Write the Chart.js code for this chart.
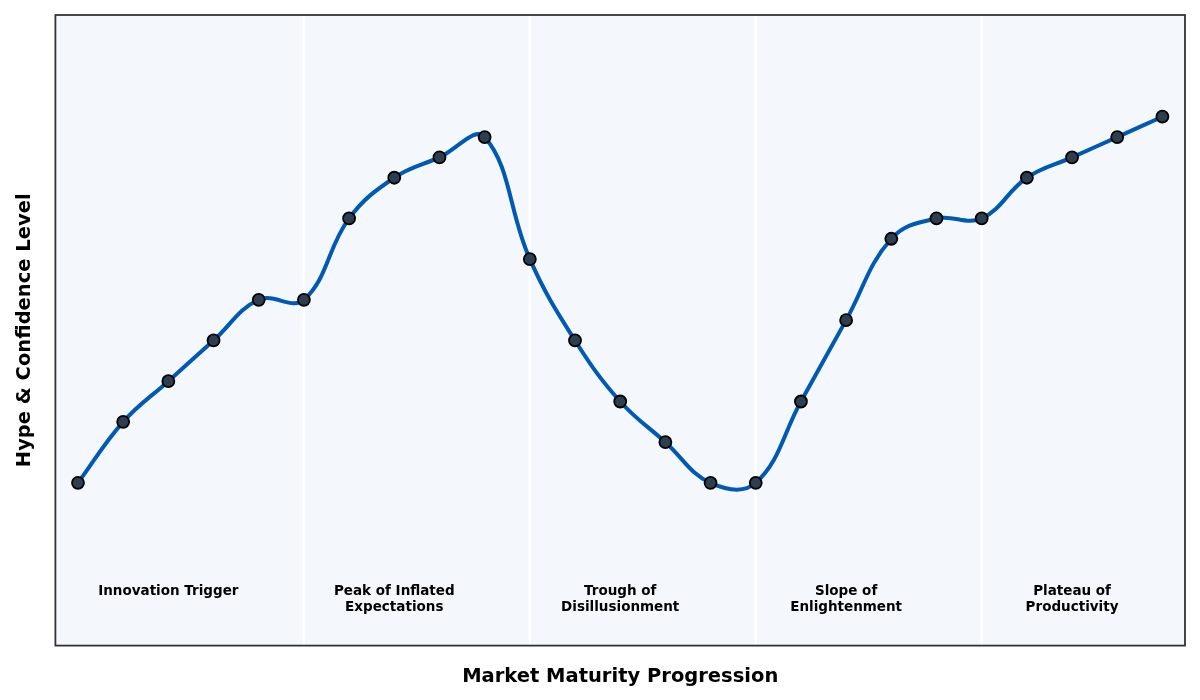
<!DOCTYPE html>
<html>
<head>
<meta charset="utf-8">
<script src="https://cdn.jsdelivr.net/npm/chart.js"></script>
<style>
  html, body { margin: 0; padding: 0; background: #fff; }
  #wrap { width: 1200px; height: 700px; }
</style>
</head>
<body>
<div id="wrap"><canvas id="hype"></canvas></div>
<script>
// hype cycle values, one per step
const steps = [0, 1, 2, 3, 4, 5, 6, 7, 8, 9, 10, 11, 12, 13, 14, 15, 16, 17, 18, 19, 20, 21, 22, 23, 24];
const hype = [20, 35, 45, 55, 65, 65, 85, 95, 100, 105, 75, 55, 40, 30, 20, 20, 40, 60, 80, 85, 85, 95, 100, 105, 110];

// phases: label lines, centre step, and the step boundaries between them
const phaseNames = [
    ['Innovation Trigger'],
    ['Peak of Inflated', 'Expectations'],
    ['Trough of', 'Disillusionment'],
    ['Slope of', 'Enlightenment'],
    ['Plateau of', 'Productivity']
];
const phaseCentres = [2, 7, 12, 17, 22];
const phaseBounds = [5, 10, 15, 20];
const labelLevel = -6.8;

const FONT = "'DejaVu Sans', sans-serif";

const backdrop = {
    id: 'backdrop',
    beforeDraw(chart) {
        const { ctx, chartArea: a, scales } = chart;
        ctx.save();
        ctx.fillStyle = '#f4f7fb';
        ctx.fillRect(a.left, a.top, a.right - a.left, a.bottom - a.top);
        ctx.strokeStyle = '#ffffff';
        ctx.lineWidth = 2.5;
        phaseBounds.forEach(b => {
            const px = scales.x.getPixelForValue(b);
            ctx.beginPath();
            ctx.moveTo(px, a.top);
            ctx.lineTo(px, a.bottom);
            ctx.stroke();
        });
        ctx.restore();
    },
    afterDatasetsDraw(chart) {
        const { ctx, chartArea: a, scales } = chart;
        ctx.save();
        ctx.fillStyle = '#000';
        ctx.font = "bold 13.5px " + FONT;
        ctx.textAlign = 'center';
        ctx.textBaseline = 'middle';
        phaseNames.forEach((lines, i) => {
            const px = scales.x.getPixelForValue(phaseCentres[i]);
            const py = scales.y.getPixelForValue(labelLevel);
            lines.forEach((t, j) => ctx.fillText(t, px, py + j * 16));
        });
        ctx.strokeStyle = '#333';
        ctx.lineWidth = 1.8;
        ctx.strokeRect(a.left, a.top, a.right - a.left, a.bottom - a.top);
        ctx.restore();
    }
};

new Chart(document.getElementById('hype'), {
    type: 'line',
    data: {
        datasets: [{
            data: steps.map((s, i) => ({ x: s, y: hype[i] })),
            borderColor: '#0059b3',
            borderWidth: 4,
            tension: 0.4,
            pointRadius: 6,
            pointBackgroundColor: '#2c3e50',
            pointBorderColor: '#000',
            pointBorderWidth: 1.8,
            fill: false
        }]
    },
    options: {
        responsive: true,
        maintainAspectRatio: false,
        animation: false,
        layout: { padding: { top: 15, right: 15, left: 0, bottom: 0 } },
        plugins: { legend: { display: false }, tooltip: { enabled: false } },
        scales: {
            x: {
                type: 'linear',
                min: -0.5,
                max: 24.5,
                grid: { display: false },
                border: { display: false },
                ticks: { display: false },
                title: {
                    display: true,
                    text: 'Market Maturity Progression',
                    color: '#000',
                    font: { family: FONT, size: 19.5, weight: 'bold' },
                    padding: { top: 12, bottom: 11 }
                }
            },
            y: {
                min: -20,
                max: 135,
                grid: { display: false },
                border: { display: false },
                ticks: { display: false },
                title: {
                    display: true,
                    text: 'Hype & Confidence Level',
                    color: '#000',
                    font: { family: FONT, size: 19.5, weight: 'bold' },
                    padding: { top: 13, bottom: 11 }
                }
            }
        }
    },
    plugins: [backdrop]
});
</script>
</body>
</html>
